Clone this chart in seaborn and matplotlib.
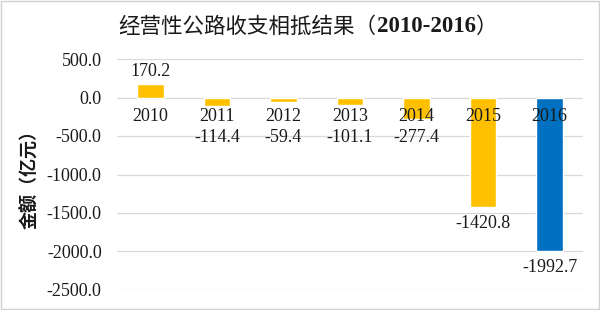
import matplotlib
matplotlib.use("Agg")
import matplotlib.pyplot as plt
import seaborn as sns
import pandas as pd
from matplotlib.patches import Rectangle

years = ["2010", "2011", "2012", "2013", "2014", "2015", "2016"]
values = [170.2, -114.4, -59.4, -101.1, -277.4, -1420.8, -1992.7]
bar_colors = ["#FFC000", "#FFC000", "#FFC000", "#FFC000", "#FFC000", "#FFC000", "#0070C0"]
yticks = [500, 0, -500, -1000, -1500, -2000, -2500]

sns.set_theme(style="white")
serif = ["Liberation Serif", "Noto Sans CJK SC"]
cjk = ["Noto Sans CJK SC", "Liberation Serif"]
txtc = "#1a1a1a"

df = pd.DataFrame({"year": years, "value": values})

fig = plt.figure(figsize=(6, 3.1), dpi=100)
ax = fig.add_axes([117/600, 1 - 290/310, (583-117)/600, (290-59)/310])

sns.barplot(data=df, x="year", y="value", hue="year", palette=bar_colors,
            legend=False, width=0.4, ax=ax, zorder=3, saturation=1)

ax.set_ylim(-2500, 500)
ax.set_xlim(-0.5, 6.5)
ax.set_yticks(yticks)
ax.set_yticklabels([f"{t:.1f}" for t in yticks], family=serif, fontsize=13, color=txtc)
ax.yaxis.grid(True, color="#D9D9D9", linewidth=0.9, zorder=0)
ax.set_axisbelow(True)
ax.tick_params(axis="y", length=0, pad=11)
for s in ["top", "right", "left", "bottom"]:
    ax.spines[s].set_visible(False)
ax.set_xticks([])
ax.set_xlabel("")
ax.set_ylabel("")

# category labels next to the zero line, drawn above the bars
for i, y in enumerate(years):
    ax.annotate(y, (i, 0), xytext=(0, -14), textcoords="offset points",
                ha="center", va="center", family=serif, fontsize=13, color=txtc, zorder=10)

for i, v in enumerate(values):
    if v >= 0:
        ax.annotate(f"{v:.1f}", (i, v), xytext=(0, 3), textcoords="offset points",
                    ha="center", va="bottom", family=serif, fontsize=13, color=txtc, zorder=10)
    else:
        ax.annotate(f"{v:.1f}", (i, min(v, -300)), xytext=(0, -12), textcoords="offset points",
                    ha="center", va="center", family=serif, fontsize=13, color=txtc, zorder=10)

fig.text(30/600, 1 - 175/310, "金额（亿元）", rotation=90, ha="center", va="center",
         family=cjk, fontsize=13, weight="bold", color=txtc)

# Title in pieces: CJK regular, digits bold serif
renderer = fig.canvas.get_renderer()
pieces = [("经营性公路收支相抵结果（", cjk, "normal", 15.5),
          ("2010-2016", serif, "bold", 16.5),
          ("）", cjk, "normal", 15.5)]
texts = []
total = 0
for s, fam, w, fs in pieces:
    t = fig.text(0, 1 - 27/310, s, family=fam, weight=w, fontsize=fs, va="center", ha="left", color=txtc)
    bb = t.get_window_extent(renderer)
    texts.append((t, bb.width))
    total += bb.width
x0 = 308 * fig.bbox.width / 600 - total / 2
for t, w in texts:
    t.set_x(x0 / fig.bbox.width)
    x0 += w

fig.patches.append(Rectangle((0.001, 0.002), 0.997, 0.995, transform=fig.transFigure,
                             fill=False, edgecolor="#D0D0D0", linewidth=1))

fig.savefig("out.png", dpi=100)
